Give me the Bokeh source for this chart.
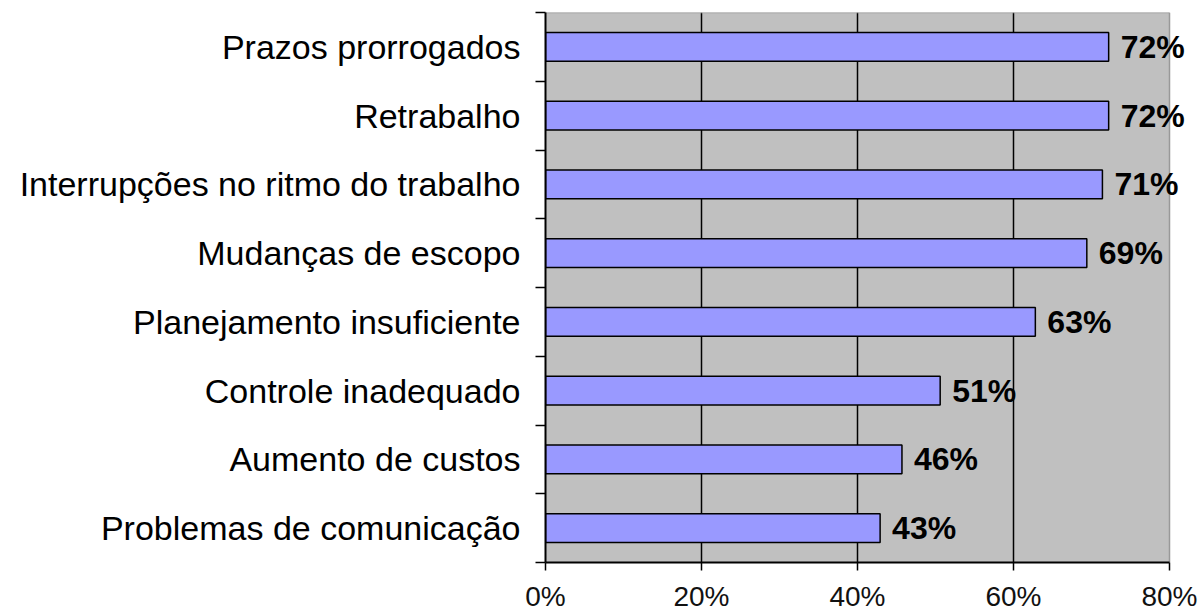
from bokeh.plotting import figure
from bokeh.models import ColumnDataSource, FixedTicker, Range1d, LabelSet
from bokeh.core.properties import value
from bokeh.embed import file_html
from bokeh.resources import INLINE

categories = ["Prazos prorrogados", "Retrabalho", "Interrupções no ritmo do trabalho",
              "Mudanças de escopo", "Planejamento insuficiente", "Controle inadequado",
              "Aumento de custos", "Problemas de comunicação"]
values = [72.2, 72.2, 71.4, 69.4, 62.8, 50.6, 45.7, 42.9]
value_labels = ["72%", "72%", "71%", "69%", "63%", "51%", "46%", "43%"]
x_ticks = [0, 20, 40, 60, 80]
x_tick_labels = ["0%", "20%", "40%", "60%", "80%"]

n = len(categories)
ypos = [n - i - 0.5 for i in range(n)]
src = ColumnDataSource(dict(y=ypos, v=values, lab=value_labels, cat=categories))

FONT = "Liberation Sans"

# frame geometry (pixels): axis area 545..1169, frame extended to 1200 for labels
left_px, right80_px, frame_right_px = 545, 1169, 1200
x_max = x_ticks[-1]
x_end = x_max * (frame_right_px - left_px) / (right80_px - left_px)

p = figure(width=1204, height=614, x_range=Range1d(0, x_end), y_range=Range1d(0, n),
           output_backend="svg", toolbar_location=None,
           min_border_left=left_px, min_border_right=1204 - frame_right_px,
           min_border_top=12, min_border_bottom=52)

p.background_fill_color = "white"
p.border_fill_color = "white"
p.outline_line_color = None

# grey plot area 0..80%
p.quad(left=0, right=x_max, bottom=0, top=n, fill_color="#C0C0C0", line_color=None)
# vertical grid lines
grid_x = x_ticks[1:-1]
p.segment(x0=grid_x, y0=[0] * len(grid_x), x1=grid_x, y1=[n] * len(grid_x),
          line_color="black", line_width=1.5)
# top and right plot-area borders
p.segment(x0=[0, x_max], y0=[n, 0], x1=[x_max, x_max], y1=[n, n],
          line_color="#999999", line_width=1.5)

p.hbar(y="y", left=0, right="v", height=0.42, source=src,
       fill_color="#9999FF", line_color="black", line_width=1.5)

labels = LabelSet(x="v", y="y", text="lab", source=src, x_offset=12,
                  text_baseline="middle", text_align="left",
                  text_font=value(FONT), text_font_size="32px", text_font_style="bold",
                  text_color="black")
p.add_layout(labels)

p.xgrid.grid_line_color = None
p.ygrid.grid_line_color = None

# y axis
p.yaxis.ticker = FixedTicker(ticks=ypos, minor_ticks=list(range(n + 1)))
p.yaxis.major_label_overrides = {y: c for y, c in zip(ypos, categories)}
p.yaxis.major_tick_out = 0
p.yaxis.major_tick_in = 0
p.yaxis.minor_tick_out = 10
p.yaxis.minor_tick_in = 0
p.yaxis.minor_tick_line_color = "black"
p.yaxis.minor_tick_line_width = 1.5
p.yaxis.axis_line_color = "black"
p.yaxis.axis_line_width = 2
p.yaxis.major_label_standoff = 15
p.yaxis.major_label_text_font = FONT
p.yaxis.major_label_text_font_size = "34px"
p.yaxis.major_label_text_color = "black"

# x axis
p.xaxis.ticker = FixedTicker(ticks=x_ticks)
p.xaxis.bounds = (0, x_max)
p.xaxis.major_label_overrides = {t: l for t, l in zip(x_ticks, x_tick_labels)}
p.xaxis.major_tick_out = 8
p.xaxis.major_tick_in = 0
p.xaxis.minor_tick_out = 0
p.xaxis.minor_tick_in = 0
p.xaxis.major_tick_line_color = "black"
p.xaxis.major_tick_line_width = 1.5
p.xaxis.axis_line_color = "black"
p.xaxis.axis_line_width = 2
p.xaxis.major_label_standoff = 10
p.xaxis.major_label_text_font = FONT
p.xaxis.major_label_text_font_size = "28px"
p.xaxis.major_label_text_color = "#111111"

open("out.html", "w").write(file_html(p, INLINE))
